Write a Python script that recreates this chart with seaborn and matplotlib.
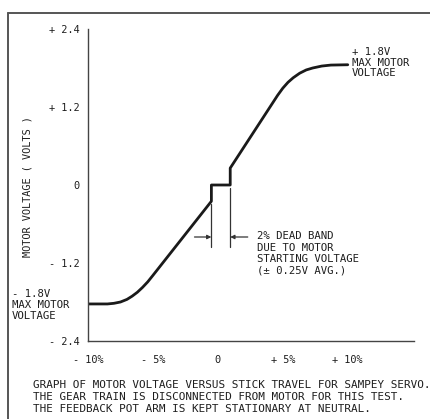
import matplotlib
matplotlib.use("Agg")
import matplotlib.pyplot as plt
import seaborn as sns
import pandas as pd
from matplotlib.lines import Line2D

# ---- data ----
stick_travel = [-10.0, -9.0, -8.5, -8.0, -7.5, -7.0, -6.6, -6.2, -5.8, -5.4, -5.0,
                -0.5, -0.5, 0.95, 0.95,
                4.6, 5.0, 5.4, 5.8, 6.3, 6.8, 7.3, 8.0, 8.7, 10.0]
motor_voltage = [-1.83, -1.83, -1.83, -1.82, -1.80, -1.76, -1.71, -1.65, -1.575, -1.49, -1.39,
                 -0.25, 0.0, 0.0, 0.26,
                 1.38, 1.49, 1.58, 1.65, 1.72, 1.77, 1.80, 1.83, 1.845, 1.85]
y_ticks = [-2.4, -1.2, 0.0, 1.2, 2.4]
y_tick_labels = ["- 2.4", "- 1.2", "0", "+ 1.2", "+ 2.4"]
x_ticks = [-10, -5, 0, 5, 10]
x_tick_labels = ["- 10%", "- 5%", "0", "+ 5%", "+ 10%"]
dead_band_edges = [-0.5, 0.95]

df = pd.DataFrame({"travel": stick_travel, "voltage": motor_voltage})

sns.set_style("white")
plt.rcParams["font.family"] = ["DejaVu Sans Mono", "DejaVu Sans"]

W, H = 431, 419
fig = plt.figure(figsize=(W / 100, H / 100), dpi=100)
fig.patch.set_facecolor("white")

def fx(px):
    return px / W

def fy(py):
    return 1 - py / H

ax = fig.add_axes([fx(88), fy(341), fx(414) - fx(88), fy(29) - fy(341)])
ax.set_facecolor("white")

ink = "#1e1e1e"
sns.lineplot(data=df, x="travel", y="voltage", estimator=None, sort=False,
             color="#1a1a1a", linewidth=2.0, ax=ax)

ax.set_xlim(-10, 15.1)
ax.set_ylim(-2.4, 2.4)
ax.set_xticks(x_ticks)
ax.set_xticklabels(x_tick_labels)
ax.set_yticks(y_ticks)
ax.set_yticklabels(y_tick_labels)
ax.set_xlabel("")
ax.set_ylabel("")
for s in ["top", "right"]:
    ax.spines[s].set_visible(False)
for s in ["left", "bottom"]:
    ax.spines[s].set_color("#444444")
    ax.spines[s].set_linewidth(1.0)
ax.tick_params(axis="both", direction="out", length=4, width=1.0,
               color="#444444", labelcolor=ink, labelsize=7.4)
ax.tick_params(axis="y", pad=2)
ax.tick_params(axis="x", pad=6)

# dead band dimension lines
ax.plot([dead_band_edges[0]] * 2, [-0.30, -0.95], color="#333333", lw=0.9)
ax.plot([dead_band_edges[1]] * 2, [-0.05, -0.95], color="#333333", lw=0.9)
ax.annotate("", xy=(dead_band_edges[0], -0.80), xytext=(-1.8, -0.80),
            arrowprops=dict(arrowstyle="-|>", color="#333333", lw=0.9,
                            mutation_scale=6, shrinkA=0, shrinkB=0))
ax.annotate("", xy=(dead_band_edges[1], -0.80), xytext=(2.3, -0.80),
            arrowprops=dict(arrowstyle="-|>", color="#333333", lw=0.9,
                            mutation_scale=6, shrinkA=0, shrinkB=0))

ax.text(3.0, -0.71, "2% DEAD BAND\nDUE TO MOTOR\nSTARTING VOLTAGE\n(\u00b1 0.25V AVG.)",
        ha="left", va="top", fontsize=7.7, color=ink, linespacing=1.2)

ax.text(10.3, 2.13, "+ 1.8V\nMAX MOTOR\nVOLTAGE", ha="left", va="top",
        fontsize=7.7, color=ink, linespacing=1.12)

fig.text(fx(12), fy(289), "- 1.8V\nMAX MOTOR\nVOLTAGE", ha="left", va="top",
         fontsize=7.7, color=ink, linespacing=1.12)

fig.text(fx(28), fy(187), "MOTOR VOLTAGE ( VOLTS )", rotation=90,
         ha="center", va="center", fontsize=7.4, color=ink)

fig.text(fx(33), fy(380),
         "GRAPH OF MOTOR VOLTAGE VERSUS STICK TRAVEL FOR SAMPEY SERVO.\n"
         "THE GEAR TRAIN IS DISCONNECTED FROM MOTOR FOR THIS TEST.\n"
         "THE FEEDBACK POT ARM IS KEPT STATIONARY AT NEUTRAL.",
         ha="left", va="top", fontsize=7.9, color=ink, linespacing=1.22)

# outer frame of the scanned figure
fig.add_artist(Line2D([fx(8), fx(8)], [fy(13), 0], transform=fig.transFigure,
                      color="#555555", lw=1.4))
fig.add_artist(Line2D([fx(8), 1], [fy(13), fy(13)], transform=fig.transFigure,
                      color="#555555", lw=1.4))

fig.savefig("out.png", dpi=100, facecolor="white")
